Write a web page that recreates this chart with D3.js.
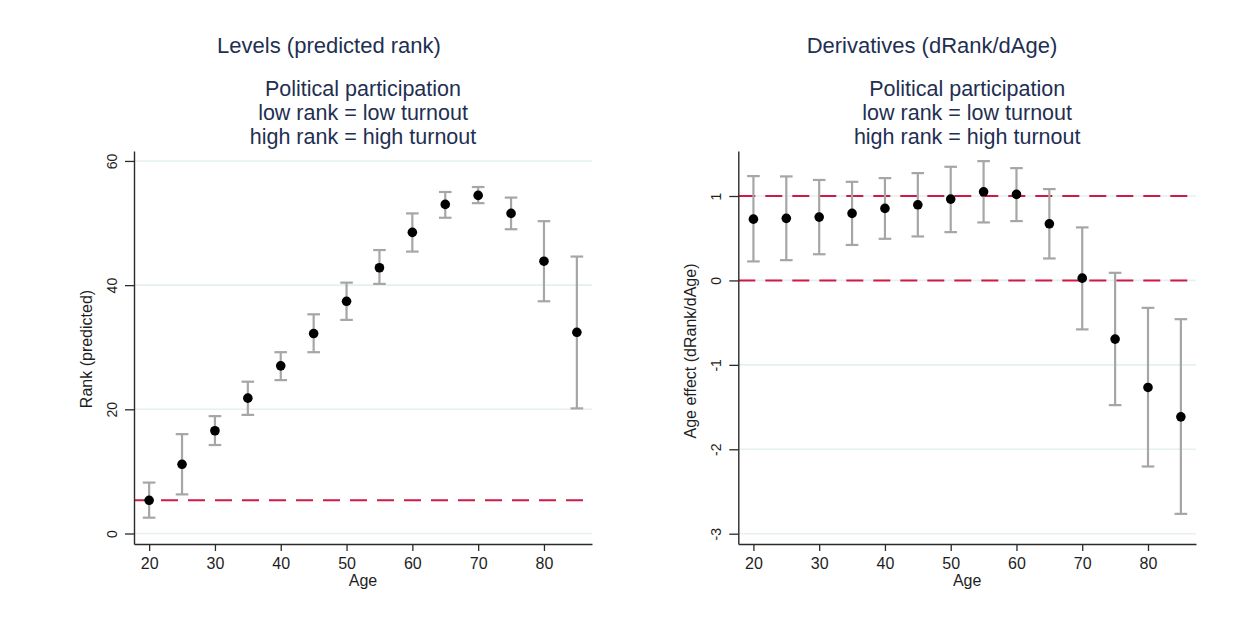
<!DOCTYPE html>
<html>
<head>
<meta charset="utf-8">
<script src="https://cdn.jsdelivr.net/npm/d3@7/dist/d3.min.js"></script>
<style>
  html, body { margin: 0; padding: 0; background: #ffffff; }
  svg { display: block; font-family: "Liberation Sans", Arial, Helvetica, sans-serif; }
</style>
</head>
<body>
<svg id="chart" width="1244" height="619"></svg>
<script>
// Age groups shared by both panels
const ages = [20, 25, 30, 35, 40, 45, 50, 55, 60, 65, 70, 75, 80, 85];

// Levels: predicted rank with 95% confidence bounds
const levelEst = [5.35, 11.15, 16.55, 21.8, 27.0, 32.2, 37.4, 42.8, 48.5, 53.0, 54.45, 51.55, 43.85, 32.4];
const levelLo  = [2.55, 6.3, 14.25, 19.1, 24.7, 29.2, 34.4, 40.2, 45.4, 50.85, 53.2, 49.0, 37.4, 20.15];
const levelHi  = [8.2, 16.0, 18.9, 24.45, 29.2, 35.3, 40.4, 45.65, 51.55, 55.0, 55.8, 54.1, 50.3, 44.6];
const levelRef = [5.35];

// Derivatives: dRank/dAge with 95% confidence bounds
const derivEst = [0.726, 0.735, 0.75, 0.794, 0.853, 0.896, 0.963, 1.05, 1.019, 0.671, 0.027, -0.695, -1.268, -1.616];
const derivLo  = [0.225, 0.24, 0.31, 0.42, 0.493, 0.521, 0.572, 0.687, 0.703, 0.26, -0.58, -1.477, -2.204, -2.765];
const derivHi  = [1.236, 1.232, 1.19, 1.168, 1.212, 1.271, 1.346, 1.413, 1.33, 1.082, 0.628, 0.09, -0.325, -0.459];
const derivRef = [1, 0];

// Tick values
const xTicks = [20, 30, 40, 50, 60, 70, 80];
const levelTicks = [0, 20, 40, 60];
const derivTicks = [-3, -2, -1, 0, 1];

// Text
const subtitleLines = ["Political participation", "low rank = low turnout", "high rank = high turnout"];

const C = {
  title: "#1f2f52",
  axis: "#2a2a2a",
  label: "#1e1e1e",
  grid: "#e6eff1",
  ci: "#a6a6a6",
  dot: "#000000",
  ref: "#cf1a47"
};

const svg = d3.select("#chart");
const plain = d => String(d);

function panel(cfg) {
  const g = svg.append("g");
  const x = d3.scaleLinear().domain([17.7, 87.3]).range([cfg.left, cfg.right]);
  const y = d3.scaleLinear().domain(cfg.yDomain).range([cfg.bottom, cfg.top]);

  // gridlines
  g.append("g").selectAll("line").data(cfg.yTicks).join("line")
    .attr("x1", cfg.left).attr("x2", cfg.right)
    .attr("y1", d => y(d)).attr("y2", d => y(d))
    .attr("stroke", C.grid).attr("stroke-width", 1.6);

  // reference lines
  g.append("g").selectAll("line").data(cfg.ref).join("line")
    .attr("x1", cfg.left).attr("x2", cfg.right)
    .attr("y1", d => y(d)).attr("y2", d => y(d))
    .attr("stroke", C.ref).attr("stroke-width", 2)
    .attr("stroke-dasharray", "17,10");

  // confidence intervals
  const rows = ages.map((a, i) => ({ a, est: cfg.est[i], lo: cfg.lo[i], hi: cfg.hi[i] }));
  const ci = g.append("g").attr("stroke", C.ci).attr("stroke-width", 2.2).attr("fill", "none");
  ci.selectAll("line.v").data(rows).join("line").attr("class", "v")
    .attr("x1", d => x(d.a)).attr("x2", d => x(d.a))
    .attr("y1", d => y(d.lo)).attr("y2", d => y(d.hi));
  ci.selectAll("line.top").data(rows).join("line").attr("class", "top")
    .attr("x1", d => x(d.a) - 6.3).attr("x2", d => x(d.a) + 6.3)
    .attr("y1", d => y(d.hi)).attr("y2", d => y(d.hi));
  ci.selectAll("line.bot").data(rows).join("line").attr("class", "bot")
    .attr("x1", d => x(d.a) - 6.3).attr("x2", d => x(d.a) + 6.3)
    .attr("y1", d => y(d.lo)).attr("y2", d => y(d.lo));

  // point estimates
  g.append("g").selectAll("circle").data(rows).join("circle")
    .attr("cx", d => x(d.a)).attr("cy", d => y(d.est)).attr("r", 4.8)
    .attr("fill", C.dot);

  // x axis
  const xa = g.append("g").attr("transform", `translate(0,${cfg.bottom})`)
    .call(d3.axisBottom(x).tickValues(xTicks).tickFormat(plain)
      .tickSize(7).tickSizeOuter(0).tickPadding(7));
  xa.attr("font-family", null).attr("font-size", null);
  xa.select(".domain").attr("stroke", C.axis).attr("stroke-width", 1.4);
  xa.selectAll(".tick line").attr("stroke", C.axis).attr("stroke-width", 1.3);
  xa.selectAll(".tick text").attr("fill", C.label).style("font-size", "16px");

  // y axis, labels turned vertically
  const ya = g.append("g").attr("transform", `translate(${cfg.left},0)`)
    .call(d3.axisLeft(y).tickValues(cfg.yTicks).tickFormat(plain)
      .tickSize(9).tickSizeOuter(0));
  ya.attr("font-family", null).attr("font-size", null);
  ya.select(".domain").attr("stroke", C.axis).attr("stroke-width", 1.4);
  ya.selectAll(".tick line").attr("stroke", C.axis).attr("stroke-width", 1.3);
  ya.selectAll(".tick text")
    .attr("transform", "rotate(-90)")
    .attr("x", 0).attr("y", -17.5).attr("dy", null)
    .attr("text-anchor", "middle")
    .attr("fill", C.label).style("font-size", "14px");

  // axis titles
  g.append("text").attr("x", (cfg.left + cfg.right) / 2).attr("y", 586)
    .attr("text-anchor", "middle").style("font-size", "16px").attr("fill", C.label)
    .text("Age");
  g.append("text")
    .attr("transform", `translate(${cfg.yTitleX},${cfg.yTitleY}) rotate(-90)`)
    .attr("text-anchor", "middle").style("font-size", "16px").attr("fill", C.label)
    .text(cfg.yTitle);

  // titles
  g.append("text").attr("x", cfg.titleX).attr("y", 53)
    .attr("text-anchor", "middle").style("font-size", "22px").attr("fill", C.title)
    .text(cfg.title);
  g.append("text").attr("text-anchor", "middle").style("font-size", "21.5px").attr("fill", C.title)
    .selectAll("tspan").data(subtitleLines).join("tspan")
    .attr("x", (cfg.left + cfg.right) / 2)
    .attr("y", (d, i) => 96 + i * 24)
    .text(d => d);
}

panel({
  left: 134, right: 592, top: 151, bottom: 544,
  yDomain: [-1.69, 61.6], yTicks: levelTicks,
  est: levelEst, lo: levelLo, hi: levelHi, ref: levelRef,
  yTitle: "Rank (predicted)", yTitleX: 92, yTitleY: 349,
  title: "Levels (predicted rank)", titleX: 329
});

panel({
  left: 738.3, right: 1196, top: 151, bottom: 544,
  yDomain: [-3.122, 1.533], yTicks: derivTicks,
  est: derivEst, lo: derivLo, hi: derivHi, ref: derivRef,
  yTitle: "Age effect (dRank/dAge)", yTitleX: 696, yTitleY: 351,
  title: "Derivatives (dRank/dAge)", titleX: 932
});
</script>
</body>
</html>
